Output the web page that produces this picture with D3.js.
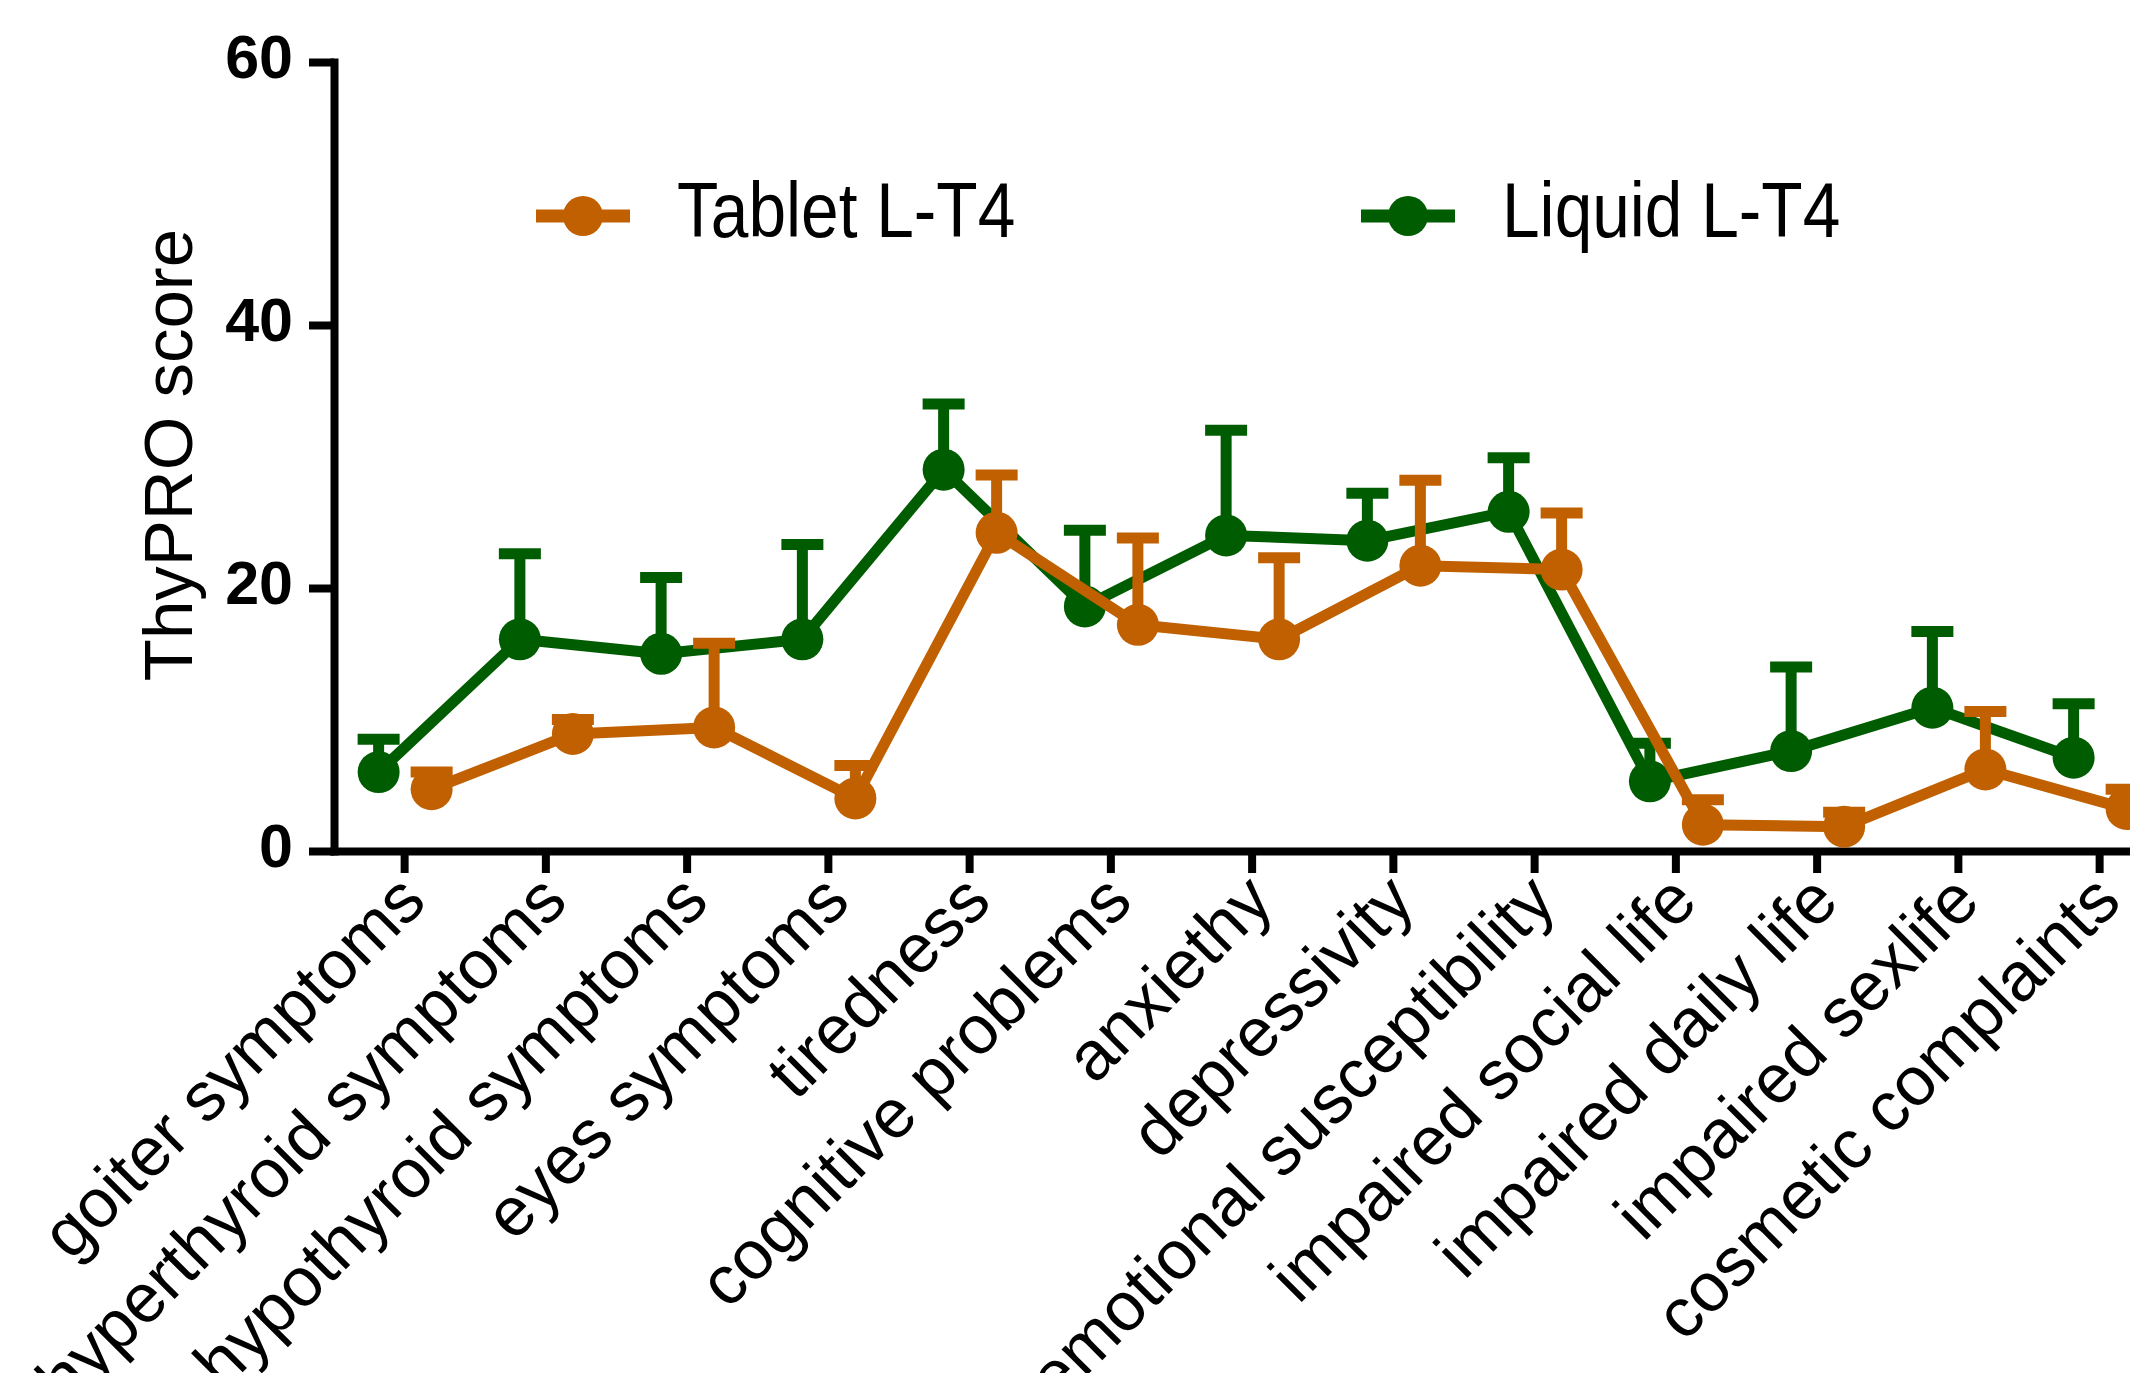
<!DOCTYPE html>
<html>
<head>
<meta charset="utf-8">
<title>ThyPRO score</title>
<script src="https://d3js.org/d3.v7.min.js"></script>
<style>
  body { margin: 0; background: #fff; }
  svg { display: block; }
</style>
</head>
<body>
<div id="chart"></div>
<script>
// dominios do grafico
let categories = ["goiter symptoms", "hyperthyroid symptoms", "hypothyroid symptoms",
    "eyes symptoms", "tiredness", "cognitive problems", "anxiethy", "depressivity",
    "emotional susceptibility", "impaired social life", "impaired daily life",
    "impaired sexlife", "cosmetic complaints"];
let seriesNames = ["Liquid L-T4", "Tablet L-T4"];

// medias e desvios (so a barra de cima)
let liquidMean = [6.0, 16.1, 15.0, 16.1, 29.0, 18.6, 24.0, 23.6, 25.8, 5.3, 7.6, 10.9, 7.1];
let liquidSD   = [2.5, 6.5, 5.8, 7.2, 5.0, 5.8, 8.0, 3.6, 4.1, 2.9, 6.4, 5.8, 4.1];
let tabletMean = [4.7, 8.9, 9.4, 4.0, 24.2, 17.2, 16.1, 21.7, 21.4, 2.0, 1.85, 6.2, 3.2];
let tabletSD   = [1.3, 1.1, 6.4, 2.5, 4.4, 6.6, 6.2, 6.5, 4.3, 1.9, 1.1, 4.4, 1.5];

let yTicks = [0, 20, 40, 60];

let W = 2130, H = 1373;
let mLeft = 334, mTop = 62, mBottom = 851;
let step = 141.25;

let colors = {"Liquid L-T4": "#005c00", "Tablet L-T4": "#c06000"};
let font = "'Liberation Sans', Arial, sans-serif";

let svg = d3.select("#chart")
    .append("svg")
        .attr("width", W)
        .attr("height", H)
        .style("overflow", "hidden");

svg.append("rect").attr("width", W).attr("height", H).attr("fill", "#fff");

let xScale = d3.scaleBand()
    .domain(categories)
    .range([mLeft, mLeft + step * categories.length]);

let offset = d3.scalePoint()
    .domain(seriesNames)
    .range([-26, 27]);

let yScale = d3.scaleLinear()
    .domain([0, 60])
    .range([mBottom, mTop]);

function cx(d){ return xScale(d.cat) + xScale.bandwidth() / 2 + offset(d.name); }

function rows(name, mean, sd){
    return categories.map(function(c, i){
        return {cat: c, name: name, mean: mean[i], sd: sd[i]};
    });
}

let data = [rows("Liquid L-T4", liquidMean, liquidSD), rows("Tablet L-T4", tabletMean, tabletSD)];

// eixos
let yAxis = d3.axisLeft(yScale)
    .tickValues(yTicks)
    .tickSize(25)
    .tickSizeOuter(0)
    .tickPadding(16);

let xAxis = d3.axisBottom(xScale)
    .tickSize(22)
    .tickSizeOuter(0);

let gx = svg.append("g")
    .attr("transform", "translate(0," + mBottom + ")")
    .call(xAxis);

gx.selectAll("text")
    .attr("x", 0).attr("y", 0).attr("dy", 0)
    .attr("transform", "translate(24,53) rotate(-45)")
    .style("text-anchor", "end")
    .attr("font-family", font)
    .attr("font-size", "69px")
    .attr("fill", "#000");

let gy = svg.append("g")
    .attr("transform", "translate(" + mLeft + ",0)")
    .call(yAxis);

gy.selectAll("text")
    .attr("dy", "0.26em")
    .attr("font-family", font)
    .attr("font-weight", "bold")
    .attr("font-size", "61px")
    .attr("fill", "#000");

[gx, gy].forEach(function(g){
    g.select(".domain").attr("stroke", "#000").attr("stroke-width", 8).attr("stroke-linecap", "square");
    g.selectAll(".tick line").attr("stroke", "#000").attr("stroke-width", 8);
});

svg.append("text")
    .attr("transform", "translate(192,455) rotate(-90)")
    .style("text-anchor", "middle")
    .attr("font-family", font)
    .attr("font-size", "69px")
    .text("ThyPRO score");

// series
let line = d3.line()
    .x(cx)
    .y(function(d){ return yScale(d.mean); });

data.forEach(function(s){
    let col = colors[s[0].name];
    let g = svg.append("g");

    g.selectAll("line.err")
        .data(s)
        .enter()
        .append("line")
        .attr("class", "err")
        .attr("x1", cx).attr("x2", cx)
        .attr("y1", function(d){ return yScale(d.mean); })
        .attr("y2", function(d){ return yScale(d.mean + d.sd); })
        .attr("stroke", col)
        .attr("stroke-width", 11);

    g.selectAll("line.cap")
        .data(s)
        .enter()
        .append("line")
        .attr("class", "cap")
        .attr("x1", function(d){ return cx(d) - 21; })
        .attr("x2", function(d){ return cx(d) + 21; })
        .attr("y1", function(d){ return yScale(d.mean + d.sd); })
        .attr("y2", function(d){ return yScale(d.mean + d.sd); })
        .attr("stroke", col)
        .attr("stroke-width", 11);

    g.append("path")
        .datum(s)
        .attr("d", line)
        .attr("fill", "none")
        .attr("stroke", col)
        .attr("stroke-width", 11)
        .attr("stroke-linejoin", "round");

    g.selectAll("circle")
        .data(s)
        .enter()
        .append("circle")
        .attr("cx", cx)
        .attr("cy", function(d){ return yScale(d.mean); })
        .attr("r", 21)
        .attr("fill", col);
});

// legenda
let legend = [
    {name: "Tablet L-T4", x: 536},
    {name: "Liquid L-T4", x: 1361}
];

legend.forEach(function(l){
    let g = svg.append("g").attr("transform", "translate(" + l.x + ",216)");
    g.append("line")
        .attr("x1", 0).attr("x2", 94)
        .attr("stroke", colors[l.name])
        .attr("stroke-width", 13);
    g.append("circle")
        .attr("cx", 47)
        .attr("r", 20)
        .attr("fill", colors[l.name]);
    // texto mais estreito, como no original
    g.append("text")
        .attr("transform", "translate(141,21) scale(0.867,1)")
        .attr("font-family", font)
        .attr("font-size", "78px")
        .text(l.name);
});
</script>
</body>
</html>
